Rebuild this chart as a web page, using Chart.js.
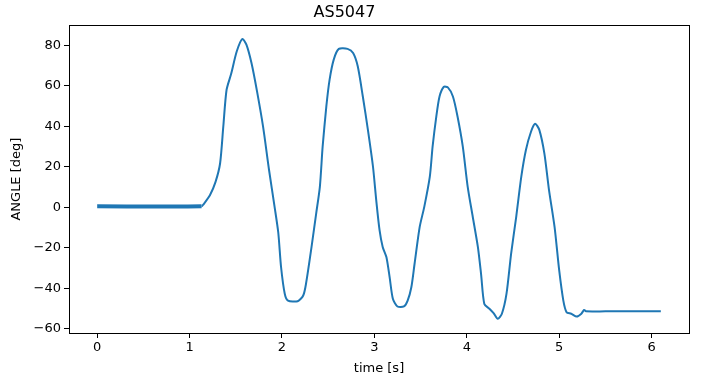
<!DOCTYPE html>
<html>
<head>
<meta charset="utf-8">
<script src="https://cdn.jsdelivr.net/npm/chart.js@4"></script>
<style>
  html, body { margin: 0; padding: 0; background: #fff; }
  #wrap { width: 707px; height: 377px; }
</style>
</head>
<body>
<div id="wrap"><canvas id="chart" width="707" height="377"></canvas></div>
<script>
// time [s] and angle [deg]
const times = [
  0.00, 1.13,
  1.15, 1.22, 1.28, 1.33, 1.365, 1.40, 1.45, 1.51, 1.57, 1.615, 1.67, 1.73, 1.795, 1.86, 1.92, 1.96, 1.99, 2.03, 2.065,
  2.17, 2.23, 2.26, 2.32, 2.37, 2.41, 2.44, 2.48, 2.515, 2.56, 2.615, 2.71, 2.77, 2.82, 2.875, 2.93, 2.985,
  3.02, 3.056, 3.09, 3.13, 3.165, 3.20, 3.25, 3.32, 3.36, 3.40, 3.435, 3.49, 3.54, 3.60, 3.63, 3.67, 3.705,
  3.75, 3.795, 3.85, 3.90, 3.957, 4.01, 4.065, 4.12, 4.155, 4.19, 4.245, 4.29, 4.335, 4.38, 4.43, 4.48,
  4.535, 4.59, 4.64, 4.695, 4.74, 4.785, 4.84, 4.89, 4.95, 5.00, 5.045, 5.08, 5.13, 5.19, 5.24, 5.27, 5.29,
  5.50, 5.80, 6.10
];
const angles = [
  0.55, 0.55,
  1.5, 6.0, 12.5, 21.7, 40.0, 58.0, 66.0, 77.0, 83.2, 80.4, 71.3, 57.3, 40.0, 18.5, 0.3, -12.5, -29.4, -42.6, -46.0,
  -46.3, -43.5, -37.7, -19.5, -3.0, 10.2, 30.0, 49.9, 63.0, 73.0, 78.3, 78.3, 76.3, 69.7, 54.8, 38.3, 20.1,
  3.6, -11.2, -19.5, -24.5, -34.4, -45.1, -48.9, -48.9, -46.0, -39.4, -27.8, -9.7, 0.3, 15.2, 30.0, 44.9, 54.8,
  59.5, 59.3, 54.8, 44.9, 30.0, 10.2, -4.7, -19.5, -33.0, -47.7, -50.0, -52.2, -55.0, -52.5, -42.6, -22.8,
  -4.6, 15.2, 28.4, 37.4, 41.3, 38.3, 26.6, 8.6, -9.6, -31.0, -46.0, -51.7, -52.5, -53.9, -52.5, -50.6, -51.3,
  -51.3, -51.3, -51.3
];
const restEnd = 1.13; // sensor jitters while at rest, drawn as a thicker band
const xTicks = [0, 1, 2, 3, 4, 5, 6];
const yTicks = [-60, -40, -20, 0, 20, 40, 60, 80];

const points = times.map((t, i) => ({ x: t, y: angles[i] }));

const fontFamily = "'DejaVu Sans', sans-serif";

// matplotlib style full frame around the plot
const framePlugin = {
  id: 'frame',
  afterDraw(chart) {
    const a = chart.chartArea;
    const ctx = chart.ctx;
    ctx.save();
    ctx.strokeStyle = '#000';
    ctx.lineWidth = 1;
    ctx.strokeRect(Math.round(a.left) + 0.5, Math.round(a.top) + 0.5,
      Math.round(a.right - a.left), Math.round(a.bottom - a.top));
    ctx.restore();
  }
};

function minusSign(v) {
  return String(v).replace('-', '\u2212');
}

new Chart(document.getElementById('chart').getContext('2d'), {
  type: 'line',
  data: {
    datasets: [{
      label: 'AS5047',
      data: points,
      borderColor: '#1f77b4',
      borderWidth: 2,
      pointRadius: 0,
      fill: false,
      tension: 0.25,
      segment: {
        borderWidth: (ctx) => ctx.p1.parsed.x <= restEnd ? 4 : 2
      }
    }]
  },
  options: {
    responsive: false,
    animation: false,
    layout: { padding: { left: 0, right: 18, top: 0, bottom: 0 } },
    plugins: {
      legend: { display: false },
      tooltip: { enabled: false },
      title: {
        display: true,
        text: 'AS5047',
        color: '#000',
        font: { family: fontFamily, size: 16, weight: 'normal' },
        padding: { top: 3, bottom: 3 }
      }
    },
    scales: {
      x: {
        type: 'linear',
        min: -0.305,
        max: 6.405,
        afterBuildTicks: (scale) => { scale.ticks = xTicks.map(v => ({ value: v })); },
        afterFit: (scale) => { scale.height = 44; },
        border: { display: true, color: '#000' },
        grid: { drawOnChartArea: false, drawTicks: true, tickLength: 5, tickColor: '#000' },
        ticks: {
          color: '#000',
          padding: 2,
          maxRotation: 0,
          font: { family: fontFamily, size: 13 },
          callback: (v) => minusSign(v)
        },
        title: {
          display: true,
          text: 'time [s]',
          color: '#000',
          font: { family: fontFamily, size: 13 },
          padding: { top: 0, bottom: 1 }
        }
      },
      y: {
        min: -62,
        max: 90,
        afterBuildTicks: (scale) => { scale.ticks = yTicks.map(v => ({ value: v })); },
        afterFit: (scale) => { scale.width = 69; },
        border: { display: true, color: '#000' },
        grid: { drawOnChartArea: false, drawTicks: true, tickLength: 5, tickColor: '#000' },
        ticks: {
          color: '#000',
          padding: 3,
          font: { family: fontFamily, size: 13 },
          callback: (v) => minusSign(v)
        },
        title: {
          display: true,
          text: 'ANGLE [deg]',
          color: '#000',
          font: { family: fontFamily, size: 13 },
          padding: { top: 9, bottom: 0 }
        }
      }
    }
  },
  plugins: [framePlugin]
});
</script>
</body>
</html>
